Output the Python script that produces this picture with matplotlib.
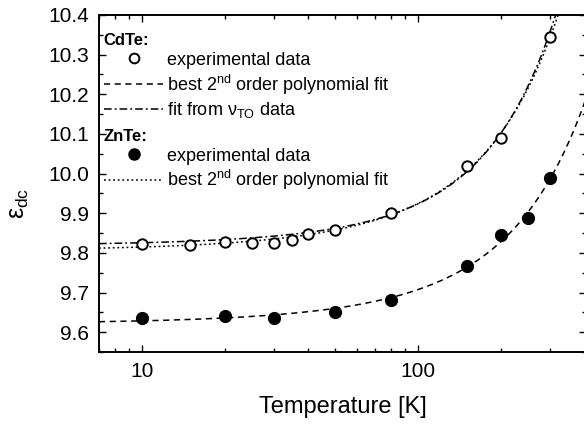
import matplotlib
matplotlib.use("Agg")
import matplotlib.pyplot as plt
import numpy as np
from matplotlib.lines import Line2D
from matplotlib.ticker import LogLocator, NullFormatter, MultipleLocator, FormatStrFormatter

plt.rcParams['font.family'] = ['Liberation Sans', 'DejaVu Sans']
plt.rcParams['mathtext.fontset'] = 'custom'
plt.rcParams['mathtext.rm'] = 'Liberation Sans'
plt.rcParams['mathtext.it'] = 'Liberation Sans'

# CdTe, open circles
cdte_T = [10, 15, 20, 25, 30, 35, 40, 50, 80, 150, 200, 300]
cdte_eps = [9.823, 9.820, 9.828, 9.825, 9.826, 9.833, 9.848, 9.858, 9.900, 10.020, 10.090, 10.345]

# ZnTe, filled circles
znte_T = [10, 20, 30, 50, 80, 150, 200, 250, 300]
znte_eps = [9.637, 9.642, 9.635, 9.652, 9.682, 9.768, 9.845, 9.887, 9.990]

nu_T = [7, 50, 100, 200, 300]
nu_eps = [9.822, 9.858, 9.935, 10.095, 10.36]

fig = plt.figure(figsize=(5.84, 4.26), dpi=100)
ax = fig.add_axes([99 / 584, 74 / 426, 487 / 584, 337 / 426])

T = np.logspace(np.log10(7), np.log10(420), 400)
cd_fit = np.polyval(np.polyfit(cdte_T, cdte_eps, 2), T)
zn_fit = np.polyval(np.polyfit(znte_T, znte_eps, 2), T)
nu_fit = np.polyval(np.polyfit(nu_T, nu_eps, 2), T)

dotted = (0, (1.2, 1.8))
dashdot = (0, (5, 2, 1.2, 2))
dashed = (0, (4, 3))

ax.plot(T, cd_fit, color='black', lw=1.1, ls=dotted)
ax.plot(T, nu_fit, color='black', lw=1.1, ls=dashdot)
ax.plot(T, zn_fit, color='black', lw=1.1, ls=dashed)
ax.plot(cdte_T, cdte_eps, 'o', mfc='white', mec='black', mew=1.4, ms=7.5)
ax.plot(znte_T, znte_eps, 'o', mfc='black', mec='black', ms=8.5)

ax.set_xscale('log')
ax.set_xlim(7, 405)
ax.set_ylim(9.55, 10.4)
ax.xaxis.set_minor_locator(LogLocator(base=10, subs=np.arange(2, 10)))
ax.xaxis.set_minor_formatter(NullFormatter())
ax.set_xticks([10, 100])
ax.set_xticklabels(['10', '100'])
ax.yaxis.set_major_locator(MultipleLocator(0.1))
ax.yaxis.set_minor_locator(MultipleLocator(0.05))
ax.yaxis.set_major_formatter(FormatStrFormatter('%.1f'))

ax.tick_params(which='both', direction='in', top=True, right=True, width=1.0)
ax.tick_params(which='major', length=5, labelsize=15, pad=7)
ax.tick_params(which='minor', length=3)
for s in ax.spines.values():
    s.set_linewidth(1.4)

ax.set_xlabel('Temperature [K]', fontsize=17)
ax.xaxis.set_label_coords(0.5, -0.13)
ax.set_ylabel(r'$\varepsilon_{\rm dc}$', fontsize=18)
ax.yaxis.set_label_coords(-0.14, 0.44)

leg_kw = dict(loc='upper left', frameon=False, fontsize=13, handlelength=3.3,
              handletextpad=0.17, labelspacing=0.2, borderpad=0, borderaxespad=0,
              alignment='left', title_fontproperties={'weight': 'bold', 'size': 12})

h1 = [Line2D([], [], ls='none', marker='o', mfc='white', mec='black', mew=1.4, ms=7),
      Line2D([], [], color='black', lw=1.1, ls=dashed),
      Line2D([], [], color='black', lw=1.1, ls=dashdot)]
l1 = ['experimental data', r'best 2$^{\rm nd}$ order polynomial fit', r'fit from $\nu_{\rm TO}$ data']
leg1 = ax.legend(h1, l1, bbox_to_anchor=(0.01, 0.946), title='CdTe:', **leg_kw)
ax.add_artist(leg1)

h2 = [Line2D([], [], ls='none', marker='o', mfc='black', mec='black', ms=8),
      Line2D([], [], color='black', lw=1.1, ls=dotted)]
l2 = ['experimental data', r'best 2$^{\rm nd}$ order polynomial fit']
ax.legend(h2, l2, bbox_to_anchor=(0.01, 0.662), title='ZnTe:', **leg_kw)

fig.savefig('out.png', dpi=100)
